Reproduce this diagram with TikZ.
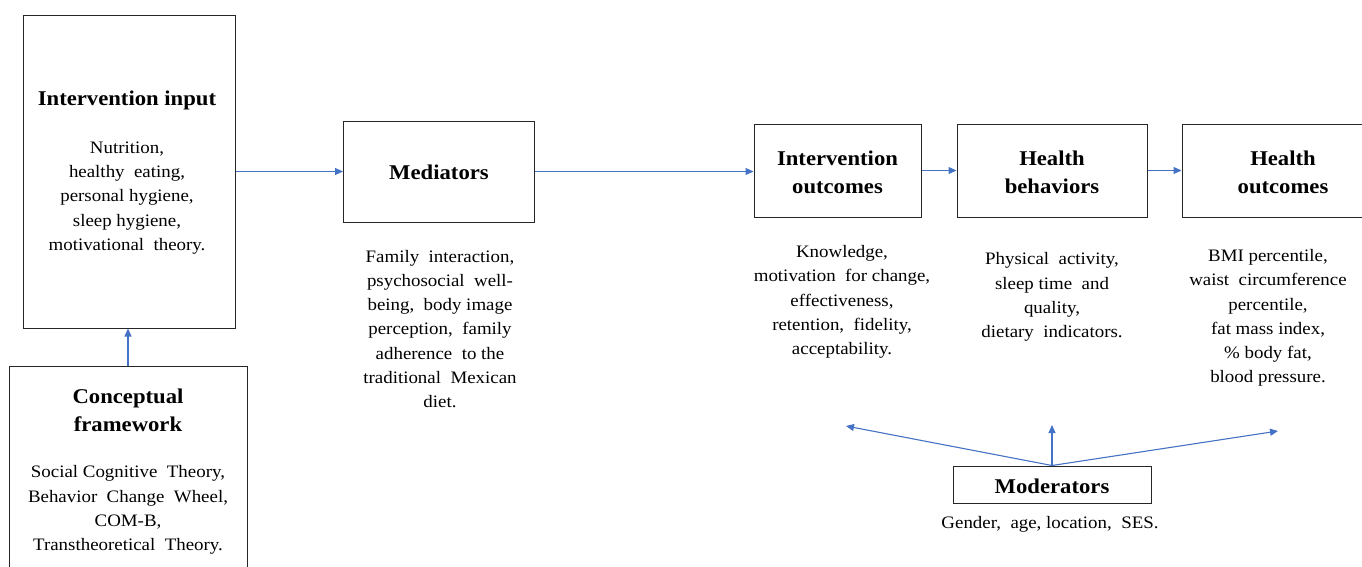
\documentclass[tikz,border=0pt]{standalone}
\usepackage{fontspec}
\setmainfont{Liberation Serif}[FakeStretch=1.08]
\usetikzlibrary{arrows.meta}
\definecolor{arrowblue}{RGB}{68,114,196}
\begin{document}
\begin{tikzpicture}[x=1pt,y=-1pt,
  box/.style={draw=black!85,line width=1pt,inner sep=0pt},
  ttl/.style={font=\fontsize{21}{28}\selectfont\bfseries,align=center,inner sep=0pt},
  body/.style={font=\fontsize{17.5}{24.3}\selectfont,align=center,inner sep=0pt},
  arr/.style={draw=arrowblue,line width=1.1pt,-{Triangle[length=8pt,width=7pt]}}]
\useasboundingbox (0,0) rectangle (1362,566);
% boxes
\node[box,minimum width=212pt,minimum height=313pt] (inp) at (129,171.5) {};
\node[box,minimum width=238pt,minimum height=214pt] (cf) at (128,473) {};
\node[box,minimum width=191pt,minimum height=101pt] (med) at (439,171.5) {};
\node[box,minimum width=167pt,minimum height=93pt] (io) at (837.5,170.5) {};
\node[box,minimum width=190pt,minimum height=93pt] (hb) at (1052,170.5) {};
\node[box,minimum width=202pt,minimum height=93pt] (ho) at (1283,170.5) {};
\node[box,minimum width=198pt,minimum height=37pt] (mod) at (1052,484.5) {};
% titles
\node[ttl] (inpt) at (127,100) {Intervention input};
\node[ttl] (cft) at (128,410) {Conceptual\\framework};
\node[ttl] (medt) at (439,172) {Mediators};
\node[ttl] (iot) at (837.5,172) {Intervention\\outcomes};
\node[ttl] (hbt) at (1052,172) {Health\\behaviors};
\node[ttl] (hot) at (1283,172) {Health\\outcomes};
\node[ttl] (modt) at (1052,486) {Moderators};
% bodies
\node[body] (inpb) at (127,198) {Nutrition,\\healthy\ \ eating,\\personal\ hygiene,\\sleep\ hygiene,\\motivational\ \ theory.};
\node[body] (cfb) at (128,510) {Social\ Cognitive\ \ Theory,\\Behavior\ \ Change\ \ Wheel,\\COM-B,\\Transtheoretical\ \ Theory.};
\node[body] (medb) at (440,329) {Family\ \ interaction,\\psychosocial\ \ well-\\being,\ \ body image\\perception,\ \ family\\adherence\ \ to the\\traditional\ \ Mexican\\diet.};
\node[body] (iob) at (842,302) {Knowledge,\\motivation\ \ for change,\\effectiveness,\\retention,\ \ fidelity,\\acceptability.};
\node[body] (hbb) at (1052,297) {Physical\ \ activity,\\sleep\ time\ \ and\\quality,\\dietary\ \ indicators.};
\node[body] (hob) at (1268,318) {BMI percentile,\\waist\ \ circumference\\percentile,\\fat mass index,\\\% body fat,\\blood pressure.};
\node[body] (modb) at (1050,524) {Gender,\ \ age, location,\ \ SES.};
% connectors
\draw[arr] (inp.east |- med.west) -- (med.west);
\draw[arr] (med.east) -- (med.east -| io.west);
\draw[arr] (io.east) -- (hb.west);
\draw[arr] (hb.east) -- (ho.west);
\draw[arr] (cf.north) -- (cf.north |- inp.south);
\coordinate (m1) at (846,426);
\coordinate (m2) at (1052,425);
\coordinate (m3) at (1278,431);
\draw[arr] (mod.north) -- (m1);
\draw[arr] (mod.north) -- (m2);
\draw[arr] (mod.north) -- (m3);
\end{tikzpicture}
\end{document}
